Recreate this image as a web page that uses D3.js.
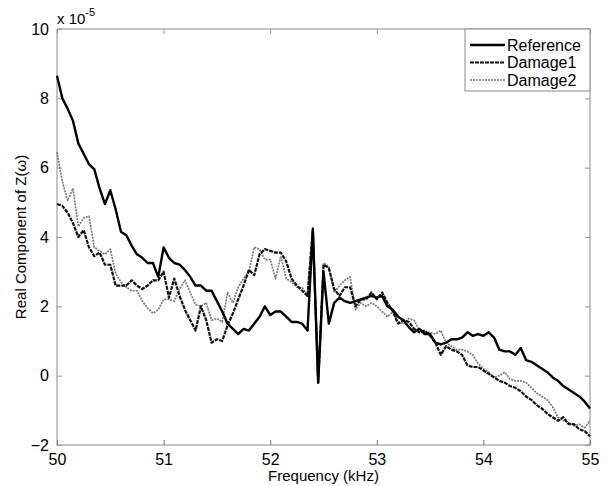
<!DOCTYPE html>
<html>
<head>
<meta charset="utf-8">
<script src="https://cdn.jsdelivr.net/npm/d3@7"></script>
<style>
  body { margin: 0; background: #fff; }
  text { font-family: "Liberation Sans", Arial, sans-serif; fill: #000; }
</style>
</head>
<body>
<div id="holder"></div>
<script>
const w = 608;
const h = 486;

// DATA (values x 1e-5, sampled every 0.05 kHz from 50 to 55)
const freq = d3.range(101).map(i => 50 + i * 0.05);

const reference = [
  8.65, 8.0, 7.7, 7.35, 6.7, 6.4, 6.1, 5.95, 5.4, 4.95,
  5.35, 4.8, 4.15, 4.05, 3.75, 3.5, 3.4, 3.25, 3.25, 2.85,
  3.7, 3.4, 3.25, 3.2, 3.05, 2.85, 2.6, 2.6, 2.45, 2.45,
  2.15, 1.85, 1.5, 1.35, 1.2, 1.35, 1.3, 1.5, 1.7, 2.0,
  1.75, 1.85, 1.85, 1.7, 1.55, 1.55, 1.5, 1.3, 4.2, -0.2,
  3.0, 1.5, 2.1, 2.25, 2.15, 2.1, 2.15, 2.2, 2.25, 2.3,
  2.25, 2.3, 2.0, 1.9, 1.7, 1.6, 1.4, 1.25, 1.35, 1.2,
  1.2, 0.95, 0.9, 0.95, 1.05, 1.05, 1.1, 1.25, 1.15, 1.2,
  1.15, 1.25, 1.1, 0.75, 0.7, 0.7, 0.6, 0.8, 0.45, 0.4,
  0.3, 0.2, 0.1, -0.05, -0.15, -0.3, -0.4, -0.5, -0.6, -0.75,
  -0.95
];

const damage1 = [
  4.95, 4.9, 4.7, 4.4, 4.0, 4.2, 3.7, 3.45, 3.55, 3.2,
  3.2, 2.6, 2.6, 2.6, 2.75, 2.6, 2.5, 2.6, 2.75, 2.75,
  3.0, 2.25, 2.8, 2.3, 1.9, 1.6, 1.3, 2.0, 1.6, 0.95,
  1.05, 1.0, 1.45, 1.8, 2.2, 2.6, 3.05, 2.9, 3.5, 3.65,
  3.6, 3.55, 3.55, 3.3, 2.8, 2.6, 2.45, 2.3, 4.25, -0.2,
  3.2, 3.1, 2.5, 2.3, 2.55, 2.55, 2.0, 2.2, 2.2, 2.4,
  2.2, 2.4, 2.1, 1.85, 1.5, 1.6, 1.55, 1.35, 1.25, 1.3,
  1.15, 0.95, 0.6, 0.85, 0.75, 0.7, 0.6, 0.3, 0.25, 0.25,
  0.15, 0.05, -0.05, -0.15, -0.2, -0.3, -0.35, -0.45, -0.6, -0.7,
  -0.85, -0.95, -1.1, -1.2, -1.3, -1.2, -1.4, -1.4, -1.55, -1.6,
  -1.75
];

const damage2 = [
  6.45, 5.6, 5.05, 5.4, 4.3, 4.55, 4.6, 3.7, 3.6, 3.5,
  3.65, 2.95, 2.7, 2.55, 2.45, 2.45, 2.15, 1.95, 1.8, 1.9,
  2.2, 2.2, 2.15, 2.5, 2.75, 2.4, 2.05, 2.0, 2.1, 1.6,
  1.65, 1.55, 2.4, 2.1, 2.55, 2.8, 3.0, 3.7, 3.65, 3.35,
  3.35, 2.8, 3.45, 2.8, 2.7, 2.55, 2.55, 2.3, 4.2, -0.1,
  3.25, 3.15, 2.4, 2.6, 2.75, 2.85, 1.9, 2.1, 2.0, 2.1,
  2.0, 1.85, 1.7, 1.85, 1.55, 1.5, 1.65, 1.6, 1.3, 1.25,
  1.25, 1.2, 1.3, 0.95, 0.85, 0.75, 0.75, 0.7, 0.6, 0.35,
  0.2, 0.1, -0.05, 0.0, 0.1, -0.1, -0.15, -0.15, -0.2, -0.35,
  -0.5, -0.6, -0.7, -0.9, -1.2, -1.3, -1.35, -1.45, -1.4, -1.5,
  -1.3
];

const seriesNames = ["Reference", "Damage1", "Damage2"];
const xTicks = [50, 51, 52, 53, 54, 55];
const yTicks = [-2, 0, 2, 4, 6, 8, 10];

// PLOT BOX
const pLeft = 57, pRight = 590, pTop = 29, pBottom = 445;

const svg = d3.select("#holder")
    .append("svg")
    .attr("width", w)
    .attr("height", h)

const xScale = d3.scaleLinear().domain([50, 55]).range([pLeft, pRight]);
const yScale = d3.scaleLinear().domain([-2, 10]).range([pBottom, pTop]);

// box
svg.append("rect")
    .attr("x", pLeft).attr("y", pTop)
    .attr("width", pRight - pLeft).attr("height", pBottom - pTop)
    .attr("fill", "none")
    .attr("stroke", "#8a8a8a")
    .attr("stroke-width", 1)

// AXES (MATLAB style: ticks inside, on both sides)
const xAxis = d3.axisBottom(xScale).tickValues(xTicks).tickSize(-5).tickPadding(9).tickFormat(d3.format("d"));
svg.append("g")
    .attr("transform", "translate(0," + pBottom + ")")
    .call(xAxis)
    .call(g => g.select(".domain").remove())
    .call(g => g.selectAll("line").attr("stroke", "#777"))
    .call(g => g.selectAll("text").attr("font-size", 16).attr("font-family", "Liberation Sans, Arial, sans-serif"))

svg.append("g")
    .attr("transform", "translate(0," + pTop + ")")
    .call(d3.axisTop(xScale).tickValues(xTicks).tickSize(-5).tickFormat(""))
    .call(g => g.select(".domain").remove())
    .call(g => g.selectAll("line").attr("stroke", "#999"))

const yAxis = d3.axisLeft(yScale).tickValues(yTicks).tickSize(-5).tickPadding(8);
svg.append("g")
    .attr("transform", "translate(" + pLeft + ",0)")
    .call(yAxis)
    .call(g => g.select(".domain").remove())
    .call(g => g.selectAll("line").attr("stroke", "#999"))
    .call(g => g.selectAll("text").attr("font-size", 16).attr("font-family", "Liberation Sans, Arial, sans-serif"))

svg.append("g")
    .attr("transform", "translate(" + pRight + ",0)")
    .call(d3.axisRight(yScale).tickValues(yTicks).tickSize(-5).tickFormat(""))
    .call(g => g.select(".domain").remove())
    .call(g => g.selectAll("line").attr("stroke", "#999"))

// exponent label
const expo = svg.append("text")
    .attr("x", pLeft)
    .attr("y", 24)
    .attr("font-size", 15)
expo.append("tspan").text("x 10")
expo.append("tspan").attr("dy", -8).attr("font-size", 11).text("-5")

// axis titles
svg.append("text")
    .attr("x", (pLeft + pRight) / 2)
    .attr("y", 481)
    .attr("text-anchor", "middle")
    .attr("font-size", 15)
    .text("Frequency (kHz)")

svg.append("text")
    .attr("transform", "translate(26," + ((pTop + pBottom) / 2) + ") rotate(-90)")
    .attr("text-anchor", "middle")
    .attr("font-size", 15)
    .text("Real Component of Z(ω)")

// LINES
const styles = {
  Reference: { color: "#000", width: 2.4, dash: null },
  Damage1: { color: "#111", width: 2.2, dash: "4,1" },
  Damage2: { color: "#7a7a7a", width: 1.7, dash: "2,1" }
};
const seriesData = { Reference: reference, Damage1: damage1, Damage2: damage2 };

const line = d3.line()
    .x((d, i) => xScale(freq[i]))
    .y(d => yScale(d));

["Damage2", "Damage1", "Reference"].forEach(name => {
  svg.append("path")
      .datum(seriesData[name])
      .attr("fill", "none")
      .attr("stroke", styles[name].color)
      .attr("stroke-width", styles[name].width)
      .attr("stroke-dasharray", styles[name].dash)
      .attr("stroke-linejoin", "round")
      .attr("d", line)
});

// LEGEND
const lg = svg.append("g").attr("transform", "translate(465,29)");
lg.append("rect")
    .attr("width", 125).attr("height", 62)
    .attr("fill", "#fff")
    .attr("stroke", "#8a8a8a")
seriesNames.forEach((name, i) => {
  const yy = 16 + i * 17.5;
  lg.append("line")
      .attr("x1", 5).attr("x2", 40)
      .attr("y1", yy).attr("y2", yy)
      .attr("stroke", styles[name].color)
      .attr("stroke-width", styles[name].width)
      .attr("stroke-dasharray", styles[name].dash)
  lg.append("text")
      .attr("x", 42).attr("y", yy + 5.5)
      .attr("font-size", 16)
      .text(name)
});
</script>
</body>
</html>
